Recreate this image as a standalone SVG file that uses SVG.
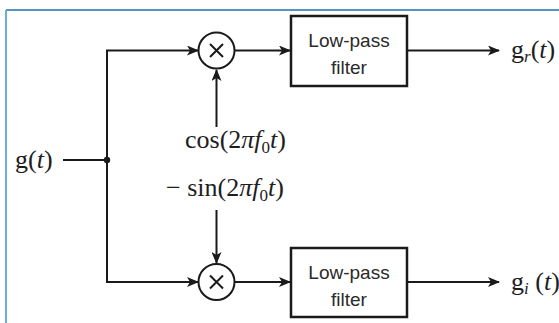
<svg xmlns="http://www.w3.org/2000/svg" width="559" height="323" viewBox="0 0 559 323">
  <defs>
    <style>
      .ln { stroke: #1a1a1a; stroke-width: 2; fill: none; }
      .box { stroke: #1a1a1a; stroke-width: 2.5; fill: #ffffff; }
      .mul { stroke: #1a1a1a; stroke-width: 2; fill: #ffffff; }
      .math { font-family: "Liberation Serif", "Times New Roman", serif; font-size: 26px; fill: #1e1e1e; }
      .sub { font-size: 17px; }
      .lbl { font-family: "Liberation Sans", Arial, sans-serif; font-size: 19px; fill: #2a2a2a; text-anchor: middle; }
      .it { font-style: italic; }
    </style>
    <marker id="arr" viewBox="0 0 12 10" refX="11" refY="5" markerWidth="12" markerHeight="10" markerUnits="userSpaceOnUse" orient="auto">
      <path d="M0,0 L12,5 L0,10 L3,5 Z" fill="#1a1a1a"/>
    </marker>
  </defs>
  <rect x="0" y="0" width="559" height="323" fill="#ffffff"/>
  <line x1="6" y1="10" x2="559" y2="10" stroke="#1f6fa8" stroke-width="1.5"/>
  <line x1="6" y1="10" x2="6" y2="323" stroke="#6cb0dc" stroke-width="2"/>

  <g id="connectors">
    <line class="ln" x1="63" y1="160" x2="107" y2="160"/>
    <polyline class="ln" points="107,282 107,50.5 198,50.5" marker-end="url(#arr)"/>
    <polyline class="ln" points="107,160 107,282 198,282" marker-end="url(#arr)"/>
    <line class="ln" x1="216.5" y1="127" x2="216.5" y2="70" marker-end="url(#arr)"/>
    <line class="ln" x1="216.5" y1="210" x2="216.5" y2="263" marker-end="url(#arr)"/>
    <line class="ln" x1="235" y1="50.5" x2="290" y2="50.5" marker-end="url(#arr)"/>
    <line class="ln" x1="235" y1="282" x2="290" y2="282" marker-end="url(#arr)"/>
    <line class="ln" x1="407" y1="50.5" x2="499" y2="50.5" marker-end="url(#arr)"/>
    <line class="ln" x1="407" y1="282" x2="499" y2="282" marker-end="url(#arr)"/>
    <circle cx="107" cy="160" r="3.2" fill="#1a1a1a"/>
  </g>

  <g id="input">
    <text class="math" x="15" y="168">g(<tspan class="it">t</tspan>)</text>
  </g>

  <g id="mixer-top">
    <circle class="mul" cx="216.5" cy="50.5" r="18"/>
    <path class="ln" d="M210,44 L223,57 M223,44 L210,57"/>
  </g>
  <g id="mixer-bottom">
    <circle class="mul" cx="216.5" cy="282" r="18"/>
    <path class="ln" d="M210,275.5 L223,288.5 M223,275.5 L210,288.5"/>
  </g>

  <g id="cos-label">
    <text class="math" x="185" y="148">cos(2<tspan class="it">πf</tspan><tspan class="sub" dy="5">0</tspan><tspan class="it" dy="-5">t</tspan>)</text>
  </g>
  <g id="sin-label">
    <text class="math" x="166" y="196">− sin(2<tspan class="it">πf</tspan><tspan class="sub" dy="5">0</tspan><tspan class="it" dy="-5">t</tspan>)</text>
  </g>

  <g id="lpf-top">
    <rect class="box" x="291" y="16" width="116" height="70"/>
    <text class="lbl" x="349" y="47">Low-pass</text>
    <text class="lbl" x="349" y="74">filter</text>
  </g>
  <g id="lpf-bottom">
    <rect class="box" x="291" y="248" width="116" height="69"/>
    <text class="lbl" x="349" y="279">Low-pass</text>
    <text class="lbl" x="349" y="306">filter</text>
  </g>

  <g id="out-top">
    <text class="math" x="511" y="58">g<tspan class="it sub" dy="4">r</tspan><tspan dy="-4">(</tspan><tspan class="it">t</tspan>)</text>
  </g>
  <g id="out-bottom">
    <text class="math" x="511" y="290">g<tspan class="it sub" dy="4">i</tspan><tspan dy="-4"> (</tspan><tspan class="it">t</tspan>)</text>
  </g>
</svg>
